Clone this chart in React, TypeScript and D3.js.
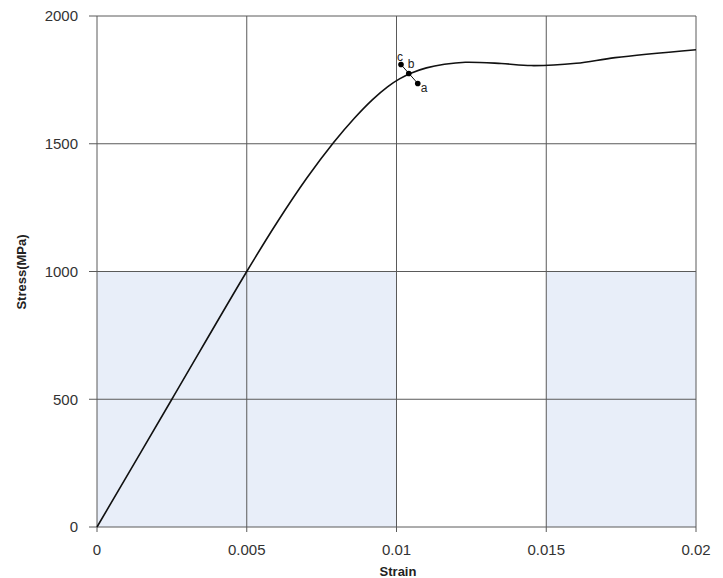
import React from "react";
import * as d3 from "d3";

const strain = [0, 0.0025, 0.005, 0.006, 0.007, 0.0079, 0.0086, 0.0092, 0.0097, 0.0101, 0.0105, 0.011, 0.0116, 0.0123, 0.0135, 0.0145, 0.016, 0.0173, 0.02];
const stress = [0, 500, 1000, 1190, 1365, 1505, 1601, 1673, 1723, 1754, 1777, 1797, 1811, 1819, 1814, 1806, 1815, 1837, 1868];

const xTicks = [0, 0.005, 0.01, 0.015, 0.02];
const xTickLabels = ["0", "0.005", "0.01", "0.015", "0.02"];
const yTicks = [0, 500, 1000, 1500, 2000];
const yTickLabels = ["0", "500", "1000", "1500", "2000"];

// shaded cells: [x0, x1, y0, y1]
const shadedCells = [
  [0, 0.01, 0, 1000],
  [0.015, 0.02, 0, 1000],
];

const markerNames = ["c", "b", "a"];
const markerStrain = [0.01015, 0.01041, 0.01071];
const markerStress = [1810, 1775, 1736];

const W = 723;
const H = 578;
const left = 97;
const right = 696;
const top = 16;
const bottom = 527;

export default function App() {
  const x = d3.scaleLinear().domain([0, 0.02]).range([left, right]);
  const y = d3.scaleLinear().domain([0, 2000]).range([bottom, top]);
  const pts = strain.map((s, i) => [s, stress[i]] as [number, number]);
  const line = d3
    .line<[number, number]>()
    .x((d) => x(d[0]))
    .y((d) => y(d[1]))
    .curve(d3.curveCatmullRom.alpha(0.5));
  const grid = "#5a5a5a";
  const font = "'Liberation Sans', Arial, sans-serif";
  const mx = markerStrain.map((s) => x(s));
  const my = markerStress.map((s) => y(s));
  return (
    <svg width={W} height={H} style={{ position: "absolute", left: 0, top: 0, background: "#fff" }}>
      <rect x={0} y={0} width={W} height={H} fill="#fff" />
      {shadedCells.map((c, i) => (
        <rect key={i} x={x(c[0])} y={y(c[3])} width={x(c[1]) - x(c[0])} height={y(c[2]) - y(c[3])} fill="#e8eef9" />
      ))}
      {xTicks.map((t, i) => (
        <g key={"x" + i}>
          <line x1={x(t)} x2={x(t)} y1={top} y2={bottom + 5} stroke={grid} strokeWidth={1} />
          <text x={x(t)} y={555} textAnchor="middle" fontFamily={font} fontSize={15} fill="#333">
            {xTickLabels[i]}
          </text>
        </g>
      ))}
      {yTicks.map((t, i) => (
        <g key={"y" + i}>
          <line x1={left - 8} x2={right} y1={y(t)} y2={y(t)} stroke={grid} strokeWidth={1} />
          <text x={78} y={y(t)} dy="0.36em" textAnchor="end" fontFamily={font} fontSize={15} fill="#333">
            {yTickLabels[i]}
          </text>
        </g>
      ))}
      <path d={line(pts) || ""} fill="none" stroke="#111" strokeWidth={1.6} />
      <line x1={mx[0]} y1={my[0]} x2={mx[2]} y2={my[2]} stroke="#111" strokeWidth={1} />
      {markerNames.map((n, i) => (
        <circle key={n} cx={mx[i]} cy={my[i]} r={2.8} fill="#000" />
      ))}
      <text x={mx[0] - 4} y={my[0] - 4} fontFamily={font} fontSize={12} fill="#222">c</text>
      <text x={mx[1] - 1} y={my[1] - 5} fontFamily={font} fontSize={12} fill="#222">b</text>
      <text x={mx[2] + 3} y={my[2] + 9} fontFamily={font} fontSize={12} fill="#222">a</text>
      <text x={398} y={576} textAnchor="middle" fontFamily={font} fontSize={13} fontWeight="bold" fill="#222">
        Strain
      </text>
      <text transform="translate(26,272) rotate(-90)" textAnchor="middle" fontFamily={font} fontSize={13} fontWeight="bold" fill="#222">
        Stress(MPa)
      </text>
    </svg>
  );
}
